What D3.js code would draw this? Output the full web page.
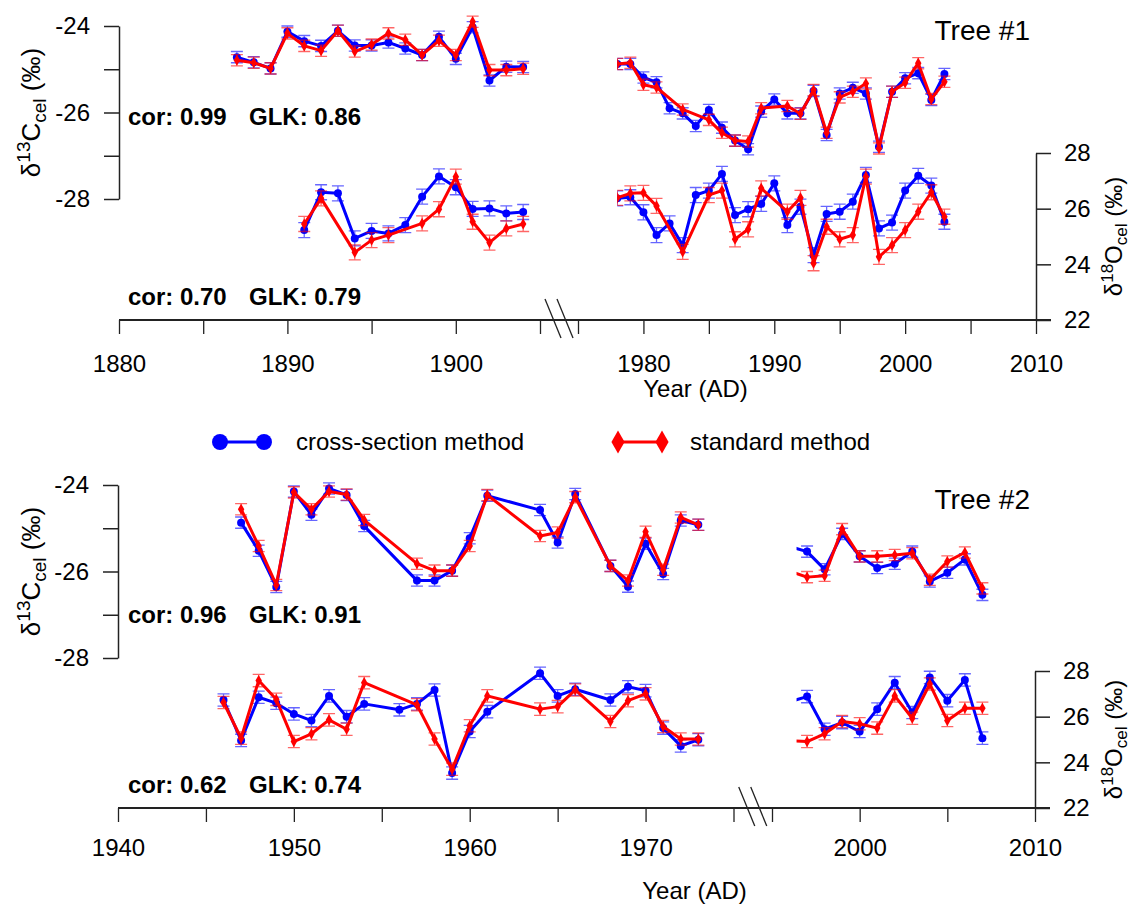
<!DOCTYPE html>
<html>
<head>
<meta charset="utf-8">
<script src="https://cdn.jsdelivr.net/npm/d3@7"></script>
<style>
body { margin: 0; background: #fff; }
svg text { font-family: "Liberation Sans", Arial, sans-serif; fill: #000; }
</style>
</head>
<body>
<svg id="chart" width="1134" height="906"></svg>
<script>
// ---- Data ----
// Tree #1, early part
var t1EarlyYears = [1887, 1888, 1889, 1890, 1891, 1892, 1893, 1894, 1895, 1896, 1897, 1898, 1899, 1900, 1901, 1902, 1903, 1904];
var t1EarlyC13Cross = [-24.72, -24.84, -24.98, -24.13, -24.35, -24.46, -24.11, -24.45, -24.45, -24.38, -24.52, -24.67, -24.25, -24.76, -24.03, -25.26, -24.94, -24.95];
var t1EarlyC13Std = [-24.79, -24.85, -24.98, -24.17, -24.46, -24.57, -24.11, -24.59, -24.43, -24.17, -24.32, -24.67, -24.34, -24.67, -23.90, -25.02, -25.02, -24.99];
var t1EarlyO18Cross = [null, null, null, null, 25.23, 26.59, 26.55, 24.93, 25.20, 25.11, 25.41, 26.43, 27.16, 26.77, 25.99, 26.01, 25.83, 25.88];
var t1EarlyO18Std = [null, null, null, null, 25.45, 26.37, null, 24.43, 24.87, 25.05, null, 25.47, 25.98, 27.15, 25.53, 24.78, 25.29, 25.45];

// Tree #1, late part
var t1LateYears = [1978, 1979, 1980, 1981, 1982, 1983, 1984, 1985, 1986, 1987, 1988, 1989, 1990, 1991, 1992, 1993, 1994, 1995, 1996, 1997, 1998, 1999, 2000, 2001, 2002, 2003];
var t1LateC13Cross = [-24.88, -24.88, -25.19, -25.30, -25.90, -26.02, -26.31, -25.94, -26.35, -26.65, -26.85, -25.98, -25.70, -26.02, -26.02, -25.50, -26.52, -25.56, -25.43, -25.56, -26.79, -25.52, -25.21, -25.09, -25.71, -25.11];
var t1LateC13Std = [-24.88, -24.85, -25.36, -25.42, null, -25.93, null, -26.17, -26.47, -26.65, -26.67, -25.90, null, -25.85, -26.03, -25.48, -26.47, -25.65, -25.52, -25.33, -26.83, -25.52, -25.31, -24.86, -25.69, -25.29];
var t1LateO18Cross = [26.37, 26.41, 25.87, 25.05, 25.47, 24.69, 26.49, 26.65, 27.25, 25.77, 25.98, 26.17, 26.91, 25.41, 26.07, 24.33, 25.81, 25.89, 26.25, 27.21, 25.29, 25.50, 26.65, 27.18, 26.83, 25.53];
var t1LateO18Std = [26.39, 26.55, 26.57, 26.10, null, 24.45, null, 26.49, 26.65, 24.90, 25.26, 26.73, null, 25.89, 26.39, 24.04, 25.35, 24.90, 25.05, 27.15, 24.27, 24.69, 25.23, 25.89, 26.59, 25.71];

// Tree #2, early part
var t2EarlyYears = [1946, 1947, 1948, 1949, 1950, 1951, 1952, 1953, 1954, 1956, 1957, 1958, 1959, 1960, 1961, 1964, 1965, 1966, 1968, 1969, 1970, 1971, 1972, 1973];
var t2EarlyC13Cross = [null, -24.87, -25.52, -26.36, -24.15, -24.69, -24.08, -24.23, -24.95, null, -26.21, -26.21, -25.98, -25.23, -24.25, -24.58, -25.33, -24.21, -25.87, -26.35, -25.36, -26.06, -24.82, -24.92];
var t2EarlyC13Std = [null, -24.56, -25.41, -26.31, -24.17, -24.56, -24.15, -24.22, -24.81, null, -25.82, -25.98, -25.98, -25.41, -24.23, -25.18, -25.10, -24.28, -25.87, -26.21, -25.08, -25.96, -24.75, -24.92];
var t2EarlyO18Cross = [26.73, 24.96, 26.85, 26.59, 26.12, 25.83, 26.91, 26.00, 26.56, 26.30, 26.56, 27.17, 23.53, 25.35, 26.22, 27.90, 26.91, 27.20, 26.73, 27.31, 27.14, 25.50, 24.72, 24.99];
var t2EarlyO18Std = [26.62, 25.06, 27.58, 26.76, 24.91, 25.25, 25.86, 25.45, 27.49, null, 26.52, 25.02, 23.70, 25.60, 26.91, 26.33, 26.44, 27.17, 25.79, 26.70, 27.00, 25.57, 25.02, 25.02];

// Tree #2, late part
var t2LateYears = [1996, 1997, 1998, 1999, 2000, 2001, 2002, 2003, 2004, 2005, 2006, 2007];
var t2LateC13Cross = [-25.42, -25.54, -25.95, -25.13, -25.65, -25.92, -25.82, -25.54, -26.23, -26.03, -25.72, -26.54];
var t2LateC13Std = [-25.99, -26.13, -26.10, -25.02, -25.65, -25.65, -25.62, -25.58, -26.19, -25.77, -25.56, -26.39];
var t2LateO18Cross = [26.65, 26.88, 25.45, 25.74, 25.35, 26.33, 27.49, 26.18, 27.72, 26.70, 27.61, 25.06];
var t2LateO18Std = [24.94, 24.91, 25.25, 25.79, 25.69, 25.50, 26.91, 25.93, 27.43, 25.83, 26.37, 26.37];

// analytical uncertainty (±) used for error bars
var errC13 = 0.13, errO18 = 0.27;

var blue = "#0000ff", red = "#ff0000";

var svg = d3.select("#chart");
var font = "24px";

var panels = [
    {
        label: "Tree #1",
        stats: [["cor: 0.99", "GLK: 0.86"], ["cor: 0.70", "GLK: 0.79"]],
        early: { years: t1EarlyYears, c13: [t1EarlyC13Cross, t1EarlyC13Std], o18: [t1EarlyO18Cross, t1EarlyO18Std],
                 domain: [1880, 1905], range: [119, 540], clip: [1880, 1905],
                 ticks: [1880, 1885, 1890, 1895, 1900, 1905] },
        late: { years: t1LateYears, c13: [t1LateC13Cross, t1LateC13Std], o18: [t1LateO18Cross, t1LateO18Std],
                domain: [1975, 2010], range: [578, 1036], clip: [1978, 2010],
                ticks: [1975, 1980, 1985, 1990, 1995, 2000, 2005, 2010] },
        cRange: [199, 26], oRange: [320, 153], axisY: 320,
        labelPad: 21, titleY: 397, treeY: 40, statY: [125, 305]
    },
    {
        label: "Tree #2",
        stats: [["cor: 0.96", "GLK: 0.91"], ["cor: 0.62", "GLK: 0.74"]],
        early: { years: t2EarlyYears, c13: [t2EarlyC13Cross, t2EarlyC13Std], o18: [t2EarlyO18Cross, t2EarlyO18Std],
                 domain: [1940, 1975], range: [118, 733.5], clip: [1940, 1975],
                 ticks: [1940, 1945, 1950, 1955, 1960, 1965, 1970, 1975] },
        late: { years: t2LateYears, c13: [t2LateC13Cross, t2LateC13Std], o18: [t2LateO18Cross, t2LateO18Std],
                domain: [1995, 2010], range: [772, 1035], clip: [1996.4, 2010],
                ticks: [1995, 2000, 2005, 2010] },
        cRange: [658, 485], oRange: [808, 671], axisY: 808,
        labelPad: 17, titleY: 899, treeY: 509, statY: [623, 793]
    }
];

panels.forEach(function(p, pi) {
    var g = svg.append("g");
    var yC = d3.scaleLinear().domain([-28, -24]).range(p.cRange);
    var yO = d3.scaleLinear().domain([22, 28]).range(p.oRange);

    [p.early, p.late].forEach(function(seg, si) {
        var x = d3.scaleLinear().domain(seg.domain).range(seg.range);
        var clipId = "clip" + pi + "_" + si;
        svg.append("clipPath").attr("id", clipId)
            .append("rect")
            .attr("x", x(seg.clip[0]))
            .attr("width", x(seg.clip[1]) - x(seg.clip[0]) + 6)
            .attr("y", 0).attr("height", 906);
        var sg = g.append("g").attr("clip-path", "url(#" + clipId + ")");

        drawSeries(sg, seg.years, seg.c13[0], x, yC, errC13, blue, "circle");
        drawSeries(sg, seg.years, seg.c13[1], x, yC, errC13, red, "diamond");
        drawSeries(sg, seg.years, seg.o18[0], x, yO, errO18, blue, "circle");
        drawSeries(sg, seg.years, seg.o18[1], x, yO, errO18, red, "diamond");

        // x axis ticks for this segment
        var ax = g.append("g")
            .attr("transform", "translate(0," + p.axisY + ")")
            .call(d3.axisBottom(x).tickValues(seg.ticks)
                .tickFormat(d => d % 10 === 0 ? String(d) : "")
                .tickSize(14).tickPadding(p.labelPad));
        ax.select(".domain").remove();
        ax.selectAll("line").attr("stroke", "#222").attr("stroke-width", 1.3);
        ax.selectAll("text").style("font-size", font).attr("fill", "#000");
    });

    // continuous x axis line
    g.append("line")
        .attr("x1", p.early.range[0]).attr("x2", p.late.range[1] + 15)
        .attr("y1", p.axisY).attr("y2", p.axisY)
        .attr("stroke", "#222").attr("stroke-width", 2);

    // axis break marks
    var xe = d3.scaleLinear().domain(p.early.domain).range(p.early.range);
    var xl = d3.scaleLinear().domain(p.late.domain).range(p.late.range);
    var mid = (xe(p.early.domain[1]) + xl(p.late.domain[0])) / 2;
    [-6, 6].forEach(function(off) {
        g.append("line")
            .attr("x1", mid + off - 8).attr("y1", p.axisY - 21)
            .attr("x2", mid + off + 8).attr("y2", p.axisY + 18)
            .attr("stroke", "#222").attr("stroke-width", 1.3);
    });

    // left axis (d13C)
    var left = g.append("g")
        .attr("transform", "translate(" + p.early.range[0] + ",0)")
        .call(d3.axisLeft(yC).tickValues([-28, -27, -26, -25, -24])
            .tickFormat(d => d % 2 === 0 ? String(d) : "")
            .tickSize(15).tickSizeOuter(0).tickPadding(14));
    left.select(".domain").attr("stroke", "#222").attr("stroke-width", 1.5);
    left.selectAll("line").attr("stroke", "#222").attr("stroke-width", 1.5);
    left.selectAll("text").style("font-size", font);

    // right axis (d18O)
    var right = g.append("g")
        .attr("transform", "translate(" + p.late.range[1] + ",0)")
        .call(d3.axisRight(yO).tickValues([22, 24, 26, 28])
            .tickFormat(d => String(d))
            .tickSize(15).tickSizeOuter(0).tickPadding(13));
    right.select(".domain").attr("stroke", "#222").attr("stroke-width", 1.5);
    right.selectAll("line").attr("stroke", "#222").attr("stroke-width", 1.5);
    right.selectAll("text").style("font-size", font);

    // axis titles
    var cMid = (p.cRange[0] + p.cRange[1]) / 2;
    var lt = g.append("text")
        .attr("transform", "translate(40," + cMid + ") rotate(-90)")
        .attr("text-anchor", "middle").style("font-size", "26px");
    lt.append("tspan").text("\u03b4");
    lt.append("tspan").attr("dy", -10).style("font-size", "19px").text("13");
    lt.append("tspan").attr("dy", 10).text("C");
    lt.append("tspan").attr("dy", 6).style("font-size", "19px").text("cel");
    lt.append("tspan").attr("dy", -6).text(" (\u2030)");

    var oMid = (p.oRange[0] + p.oRange[1]) / 2;
    var rt = g.append("text")
        .attr("transform", "translate(1122," + oMid + ") rotate(-90)")
        .attr("text-anchor", "middle").style("font-size", font);
    rt.append("tspan").text("\u03b4");
    rt.append("tspan").attr("dy", -9).style("font-size", "17px").text("18");
    rt.append("tspan").attr("dy", 9).text("O");
    rt.append("tspan").attr("dy", 5).style("font-size", "17px").text("cel");
    rt.append("tspan").attr("dy", -5).text(" (\u2030)");

    g.append("text")
        .attr("x", (p.early.range[0] + p.late.range[1]) / 2 + 118).attr("y", p.titleY)
        .attr("text-anchor", "middle").style("font-size", font)
        .text("Year (AD)");

    g.append("text")
        .attr("x", 1030).attr("y", p.treeY)
        .attr("text-anchor", "end").style("font-size", "28px")
        .text(p.label);

    p.stats.forEach(function(s, k) {
        g.append("text").attr("x", 128).attr("y", p.statY[k])
            .style("font-size", font).style("font-weight", "bold").text(s[0]);
        g.append("text").attr("x", 249).attr("y", p.statY[k])
            .style("font-size", font).style("font-weight", "bold").text(s[1]);
    });
});

function drawSeries(g, years, vals, x, y, err, color, shape) {
    var pts = years.map((yr, i) => ({ year: yr, v: vals[i] })).filter(d => d.v !== null);
    var cap = 6;

    g.append("g").selectAll("path")
        .data(pts).enter().append("path")
        .attr("d", function(d) {
            var cx = x(d.year), y1 = y(d.v + err), y2 = y(d.v - err);
            return "M" + (cx - cap) + "," + y1 + "H" + (cx + cap) +
                   "M" + cx + "," + y1 + "V" + y2 +
                   "M" + (cx - cap) + "," + y2 + "H" + (cx + cap);
        })
        .attr("fill", "none")
        .attr("stroke", color).attr("stroke-opacity", 0.6)
        .attr("stroke-width", 1.3);

    g.append("path").datum(pts)
        .attr("fill", "none").attr("stroke", color)
        .attr("stroke-width", 3).attr("stroke-linejoin", "round")
        .attr("d", d3.line().x(d => x(d.year)).y(d => y(d.v)));

    var sym = d3.symbol().type(shape === "circle" ? d3.symbolCircle : d3.symbolDiamond)
        .size(shape === "circle" ? 50 : 36);
    g.append("g").selectAll("path")
        .data(pts).enter().append("path")
        .attr("transform", d => "translate(" + x(d.year) + "," + y(d.v) + ")")
        .attr("d", sym).attr("fill", color);
}

// legend
var leg = svg.append("g").attr("transform", "translate(0,442)");
var legItems = [
    { x1: 220, x2: 264, color: blue, shape: d3.symbolCircle, size: 200, text: "cross-section method", tx: 296 },
    { x1: 618, x2: 662, color: red, shape: d3.symbolDiamond, size: 150, text: "standard method", tx: 690 }
];
legItems.forEach(function(it) {
    leg.append("line").attr("x1", it.x1).attr("x2", it.x2).attr("y1", 0).attr("y2", 0)
        .attr("stroke", it.color).attr("stroke-width", 3);
    [it.x1, it.x2].forEach(function(cx) {
        leg.append("path").attr("transform", "translate(" + cx + ",0)")
            .attr("d", d3.symbol().type(it.shape).size(it.size)).attr("fill", it.color);
    });
    leg.append("text").attr("x", it.tx).attr("y", 8).style("font-size", font).text(it.text);
});
</script>
</body>
</html>
